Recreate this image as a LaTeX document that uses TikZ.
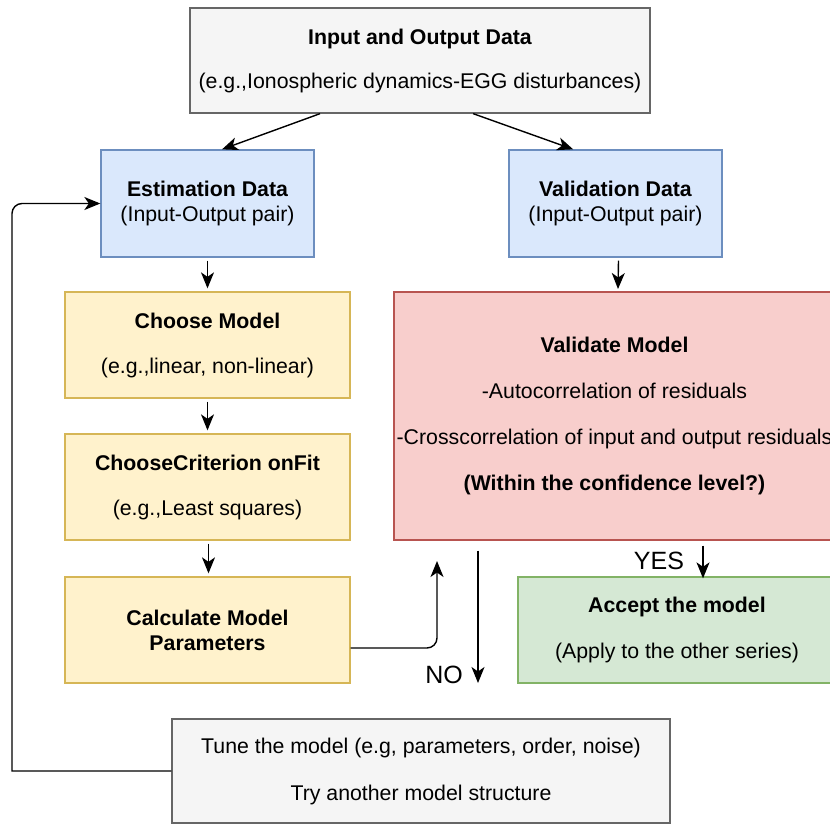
\documentclass[tikz,border=0pt]{standalone}
\usepackage{fontspec}
\setmainfont{Liberation Sans}
\usetikzlibrary{arrows.meta}

\definecolor{gfill}{HTML}{F5F5F5}
\definecolor{gline}{HTML}{666666}
\definecolor{bfill}{HTML}{DAE8FC}
\definecolor{bline}{HTML}{6C8EBF}
\definecolor{yfill}{HTML}{FFF2CC}
\definecolor{yline}{HTML}{D6B656}
\definecolor{rfill}{HTML}{F8CECC}
\definecolor{rline}{HTML}{B85450}
\definecolor{grfill}{HTML}{D5E8D4}
\definecolor{grline}{HTML}{82B366}

\tikzset{
  box/.style={draw, line width=1.3pt, align=center, inner sep=0pt,
    font=\fontsize{21.3}{25}\selectfont},
  greybox/.style={box, fill=gfill, draw=gline},
  bluebox/.style={box, fill=bfill, draw=bline},
  yelbox/.style={box, fill=yfill, draw=yline},
  redbox/.style={box, fill=rfill, draw=rline},
  grnbox/.style={box, fill=grfill, draw=grline},
  arr/.style={-{Stealth[length=16pt,width=13pt,inset=4.5pt]}, line width=1.4pt},
  lbl/.style={font=\fontsize{25}{28}\selectfont, inner sep=0pt}
}

\begin{document}
\begin{tikzpicture}[x=1pt, y=-1pt]

\useasboundingbox (0,0) rectangle (830,825);
\clip (0,0) rectangle (830,825);

\node[greybox, minimum width=460pt, minimum height=105pt] (io) at (420,60.5)
  {\bfseries Input and Output Data\\[19pt](e.g.,Ionospheric dynamics-EGG disturbances)};

\node[bluebox, minimum width=213pt, minimum height=107pt] (estim) at (207.5,203.5)
  {\bfseries Estimation Data\\(Input-Output pair)};
\node[bluebox, minimum width=213pt, minimum height=107pt] (valid) at (615.5,203.5)
  {\bfseries Validation Data\\(Input-Output pair)};

\node[yelbox, minimum width=285pt, minimum height=106pt] (choose) at (207.5,345)
  {\bfseries Choose Model\\[20pt](e.g.,linear, non-linear)};
\node[yelbox, minimum width=285pt, minimum height=106pt] (crit) at (207.5,487)
  {\bfseries ChooseCriterion onFit\\[20pt](e.g.,Least squares)};
\node[yelbox, minimum width=285pt, minimum height=106pt] (calc) at (207.5,630)
  {\bfseries Calculate Model\\\bfseries Parameters};

\node[redbox, minimum width=441pt, minimum height=248pt] (valm) at (614.5,416)
  {\bfseries Validate Model\\[21pt]-Autocorrelation of residuals\\[21pt]-Crosscorrelation of input and output residuals\\[21pt]\bfseries (Within the confidence level?)};

\node[grnbox, minimum width=318pt, minimum height=106pt] (accept) at (677,630)
  {\bfseries Accept the model\\[21pt](Apply to the other series)};

\node[greybox, minimum width=498pt, minimum height=104pt] (tune) at (421,771)
  {Tune the model (e.g, parameters, order, noise)\\[22pt]Try another model structure};

\coordinate (retry) at (437,561);
\coordinate (noend) at (478,683);
\coordinate (vtop) at (618,292);
\coordinate (loop) at (12,400);

\node[lbl] (yes) at (659,561) {YES};
\node[lbl] (no) at (444,675) {NO};

\draw[arr] (io.208) -- (estim.75);
\draw[arr] (io.315) -- (valid.128);
\draw[arr] ([yshift=-3pt]estim.south) -- ([yshift=3pt]estim.south |- choose.north);
\draw[arr] ([yshift=-3pt]choose.south) -- ([yshift=3pt]crit.north);
\draw[arr] ([xshift=1pt,yshift=-3pt]crit.south) -- ([xshift=1pt,yshift=3pt]calc.north);
\draw[arr] ([xshift=3pt,yshift=-3pt]valid.south) -- ([yshift=3pt]vtop);
\draw[arr] ([xshift=88.5pt,yshift=-5pt]valm.south) -- ([xshift=26pt,yshift=-2pt]accept.north);
\draw[arr] ([xshift=-136.5pt,yshift=-10pt]valm.south) -- (noend);
\draw[arr, rounded corners=10pt] ([yshift=-18pt]calc.east) -| (retry);
\draw[arr] (tune.west) -| (loop) [rounded corners=10pt] |- (estim.west);

\end{tikzpicture}
\end{document}
